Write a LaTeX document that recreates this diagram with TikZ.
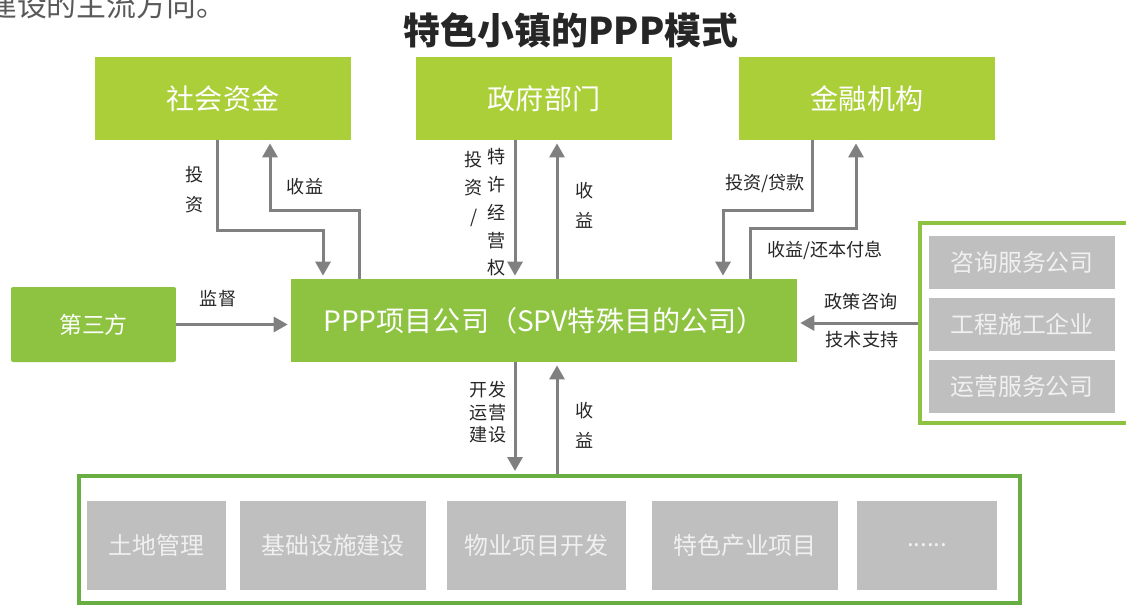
\documentclass[tikz,border=0pt]{standalone}
\usepackage{fontspec}
\setmainfont{Noto Sans CJK SC}
\usetikzlibrary{arrows.meta}
\definecolor{lime}{RGB}{170,207,56}
\definecolor{leaf}{RGB}{141,195,64}
\definecolor{moss}{RGB}{104,174,66}
\definecolor{ash}{RGB}{191,191,191}
\definecolor{rail}{RGB}{128,128,128}
\newcommand{\moredots}{......}
\begin{document}
\begin{tikzpicture}[x=0.02cm,y=-0.02cm,
	topbox/.style={fill=lime,text=white,minimum width=5.12cm,minimum height=1.66cm,font=\fontsize{16}{16}\selectfont},
	greenbox/.style={fill=leaf,text=white,font=\fontsize{16}{16}\selectfont},
	greybox/.style={fill=ash,text=white!94!black,font=\fontsize{13.6}{14}\selectfont},
	flow/.style={line width=0.06cm,draw=rail,shorten >=0.06cm,-{Triangle[width=0.3cm,length=0.28cm]}},
	tag/.style={text=black!85,align=center,font=\fontsize{10.3}{17}\selectfont}]
	\useasboundingbox (0,0) rectangle (1126,606);
	\node[anchor=west,text=black!65,font=\fontsize{17}{17}\selectfont] (intro) at (-19,5) {建设的主流方向。};
	\node[text=black!85,font=\fontsize{21}{21}\bfseries] (title) at (571,30) {特色小镇的PPP模式};
	\node[topbox] (zj) at (223,98.5) {社会资金};
	\node[topbox] (zf) at (544,98.5) {政府部门};
	\node[topbox] (jr) at (867,98.5) {金融机构};
	\node[greenbox,minimum width=10.12cm,minimum height=1.66cm] (spv) at (544,320.5) {PPP项目公司（SPV特殊目的公司）};
	\node[greenbox,rounded corners=0.04cm,minimum width=3.3cm,minimum height=1.5cm,font=\fontsize{13}{13}\selectfont] (dsf) at (93.5,324.5) {第三方};
	\node[draw=leaf,line width=0.08cm,minimum width=4.4cm,minimum height=4.02cm] (fw) at (1030,323) {};
	\foreach \t [count=\i] in {咨询服务公司,工程施工企业,运营服务公司}
		\node[greybox,minimum width=3.72cm,minimum height=1.06cm] (fw\i) at (1022,200.5+62*\i) {\t};
	\node[draw=moss,line width=0.08cm,minimum width=18.82cm,minimum height=2.54cm] (xm) at (549.5,539.5) {};
	\foreach \x/\w/\t [count=\i] in {156.5/139/土地管理,333/186/基础设施建设,536.5/179/物业项目开发,745/186/特色产业项目,927/140/\moredots}
		\node[greybox,minimum width=\w*0.02cm,minimum height=1.78cm] (xm\i) at (\x,545.5) {\t};
	\coordinate (a) at (217,230);
	\coordinate (b) at (323,0);
	\coordinate (c) at (359,210);
	\coordinate (d) at (270,0);
	\coordinate (e) at (515,0);
	\coordinate (f) at (557,0);
	\coordinate (g) at (812,210);
	\coordinate (h) at (723,0);
	\coordinate (i) at (750,228);
	\coordinate (j) at (856,0);
	\draw[flow] (zj.south -| a) -- (a) -| (spv.north -| b);
	\draw[flow] (spv.north -| c) -- (c) -| (zj.south -| d);
	\draw[flow] (zf.south -| e) -- (spv.north -| e);
	\draw[flow] (spv.north -| f) -- (zf.south -| f);
	\draw[flow] (jr.south -| g) -- (g) -| (spv.north -| h);
	\draw[flow] (spv.north -| i) -- (i) -| (jr.south -| j);
	\draw[flow] (dsf.east) -- (spv.west |- dsf.east);
	\draw[flow] (fw.west) -- (spv.east |- fw.west);
	\draw[flow] (spv.south -| e) -- (xm.north -| e);
	\draw[flow] (xm.north -| f) -- (spv.south -| f);
	\node[tag] (l1) at (195,190) {投\\资};
	\node[tag] (l2) at (305,187) {收益};
	\node[tag,font=\fontsize{10.3}{16}\selectfont] (l3) at (474,189) {投\\资\\/};
	\node[tag,font=\fontsize{10.3}{15.8}\selectfont] (l4) at (497,212.5) {特\\许\\经\\营\\权};
	\node[tag] (l5) at (585,205) {收\\益};
	\node[tag] (l6) at (765,183) {投资/贷款};
	\node[tag] (l7) at (825,250) {收益/还本付息};
	\node[tag] (l8) at (218,299) {监督};
	\node[tag] (l9) at (861,302) {政策咨询};
	\node[tag] (l10) at (862,340) {技术支持};
	\node[tag,font=\fontsize{10.3}{12.8}\selectfont] (l11) at (488,412.5) {开发\\运营\\建设};
	\node[tag] (l12) at (585,425) {收\\益};
\end{tikzpicture}
\end{document}
